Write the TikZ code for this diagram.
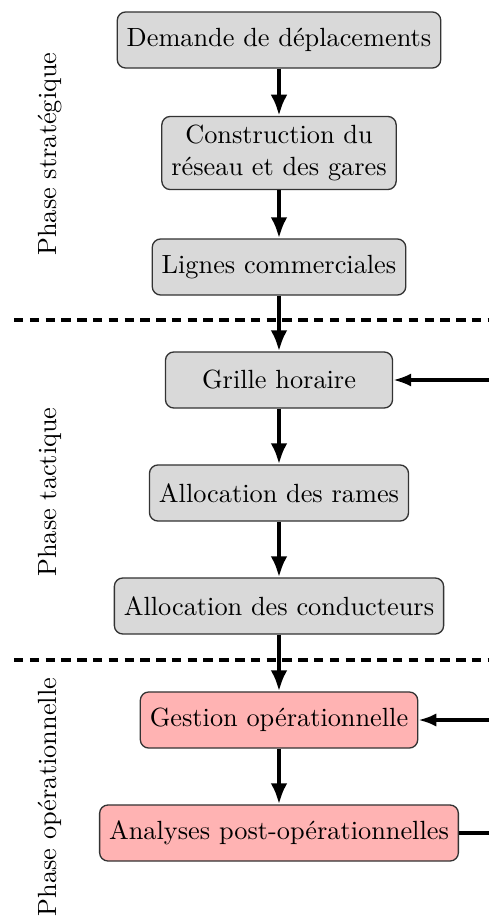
\documentclass[tikz,border=0pt]{standalone}
\usetikzlibrary{arrows.meta}
\definecolor{boxgray}{HTML}{D9D9D9}
\definecolor{boxred}{HTML}{FFB3B3}
\definecolor{edgegray}{HTML}{333333}
\begin{document}
\begin{tikzpicture}[x=0.38pt,y=-0.38pt,
  box/.style={draw=edgegray,line width=0.5pt,rounded corners=3.2pt,fill=boxgray,minimum height=21.3pt,inner xsep=3.6pt,align=center,font=\normalsize},
  redbox/.style={box,fill=boxred},
  flow/.style={line width=1.6pt,-{Latex[length=8pt,width=6.4pt]}},
  side/.style={line width=1.25pt,-{Latex[length=6.8pt,width=5pt]}},
  sep/.style={line width=1.2pt,dash pattern=on 3.6pt off 2.4pt},
  phase/.style={rotate=90,font=\normalsize}]
\useasboundingbox (0,0) rectangle (488,916);
\node[box] (n1) at (279,40) {Demande de déplacements};
\node[box,minimum height=26.6pt] (n2) at (279,153) {Construction du\\réseau et des gares};
\node[box] (n3) at (279,267) {Lignes commerciales};
\node[box,minimum width=86.3pt] (n4) at (279,380) {Grille horaire};
\node[box] (n5) at (279,493) {Allocation des rames};
\node[box] (n6) at (279,606) {Allocation des conducteurs};
\node[redbox] (n7) at (279,720) {Gestion opérationnelle};
\node[redbox] (n8) at (279,833) {Analyses post-opérationnelles};
\coordinate (s1a) at (14,320);
\coordinate (s1b) at (488,320);
\coordinate (s2a) at (14,660);
\coordinate (s2b) at (488,660);
\draw[sep] (s1a) -- (s1b);
\draw[sep] (s2a) -- (s2b);
\draw[flow] (n1) -- (n2);
\draw[flow] (n2) -- (n3);
\draw[flow] (n3) -- (n4);
\draw[flow] (n4) -- (n5);
\draw[flow] (n5) -- (n6);
\draw[flow] (n6) -- (n7);
\draw[flow] (n7) -- (n8);
\coordinate (r1) at (490,380);
\coordinate (r2) at (490,720);
\coordinate (r3) at (490,833);
\draw[side] (r1) -- (n4);
\draw[side] (r2) -- (n7);
\draw[line width=1.25pt] (n8) -- (r3);
\node[phase] (p1) at (50,154) {Phase stratégique};
\node[phase] (p2) at (50,492) {Phase tactique};
\node[phase] (p3) at (50,797) {Phase opérationnelle};
\end{tikzpicture}
\end{document}
